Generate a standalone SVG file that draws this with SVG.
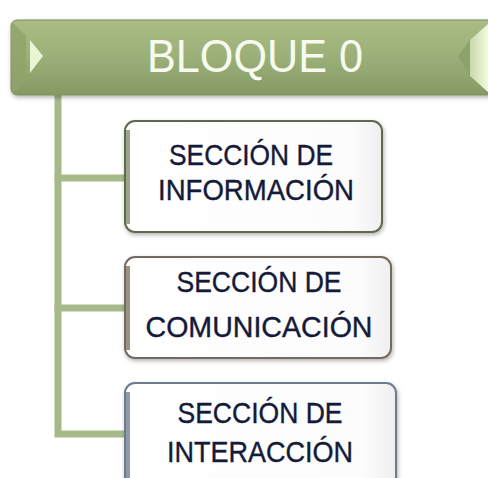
<svg xmlns="http://www.w3.org/2000/svg" width="488" height="478" viewBox="0 0 488 478">
<defs>
<linearGradient id="hdr" x1="0" y1="0" x2="0" y2="1">
<stop offset="0" stop-color="#a9bc85"/>
<stop offset="0.5" stop-color="#9bb078"/>
<stop offset="1" stop-color="#859a63"/>
</linearGradient>
<linearGradient id="bx" x1="0" y1="0" x2="1" y2="0">
<stop offset="0" stop-color="#ffffff"/>
<stop offset="0.88" stop-color="#fcfcfc"/>
<stop offset="1" stop-color="#efefef"/>
</linearGradient>
<linearGradient id="rcap" x1="0" y1="0" x2="1" y2="0">
<stop offset="0" stop-color="#c9d9a8"/>
<stop offset="1" stop-color="#f2fae0"/>
</linearGradient>
<filter id="sh" x="-5%" y="-10%" width="110%" height="130%">
<feDropShadow dx="1" dy="2" stdDeviation="2" flood-color="#000" flood-opacity="0.3"/>
</filter>
</defs>
<style>
.conn{stroke:#a6b988;stroke-width:7;fill:none;stroke-linecap:square}
.box{fill:url(#bx);stroke-width:2}
.lbl{font-family:"Liberation Sans",Arial,sans-serif;font-size:30px;fill:#141a38;stroke:#141a38;stroke-width:0.4;text-anchor:middle}
.hl{font-family:"Liberation Sans",Arial,sans-serif;font-size:46px;fill:#f6faef;text-anchor:middle}
</style>
<rect width="488" height="478" fill="#ffffff"/>
<g id="connectors">
<path class="conn" d="M58 96 V434 H126"/>
<path class="conn" d="M58 178 H126"/>
<path class="conn" d="M58 308 H126"/>
</g>
<g id="bloque0">
<rect x="11" y="20" width="490" height="75" rx="6" fill="url(#hdr)" stroke="#7d9060" stroke-width="1" filter="url(#sh)"/>
<path d="M12 22 L26 36 V80 L12 94 Z" fill="#8fa46c" opacity="0.8"/>
<path d="M30 40 L43 56 L30 73 Z" fill="#eaf5d2"/>
<path d="M488 24 L470 40 V76 L488 92 Z" fill="url(#rcap)"/>
<path d="M470 40 L458 56 L470 76 Z" fill="#8ea26b"/>
<text class="hl" x="255" y="72" textLength="216" lengthAdjust="spacingAndGlyphs">BLOQUE 0</text>
</g>
<g id="informacion">
<rect class="box" x="125" y="121" width="257" height="111" rx="10" stroke="#5f6b4e" filter="url(#sh)"/>
<rect x="126" y="130" width="4" height="94" fill="#9aa58a"/>
<text class="lbl" x="251" y="165" textLength="164" lengthAdjust="spacingAndGlyphs">SECCIÓN DE</text>
<text class="lbl" x="256" y="200" textLength="196" lengthAdjust="spacingAndGlyphs">INFORMACIÓN</text>
</g>
<g id="comunicacion">
<rect class="box" x="125" y="257" width="266" height="101" rx="10" stroke="#756a5e" filter="url(#sh)"/>
<rect x="126" y="266" width="4" height="84" fill="#9b9184"/>
<text class="lbl" x="259" y="292" textLength="165" lengthAdjust="spacingAndGlyphs">SECCIÓN DE</text>
<text class="lbl" x="259" y="337" textLength="227" lengthAdjust="spacingAndGlyphs">COMUNICACIÓN</text>
</g>
<g id="interaccion">
<rect class="box" x="125" y="383" width="271" height="110" rx="10" stroke="#6d7c8c" filter="url(#sh)"/>
<rect x="126" y="392" width="4" height="86" fill="#8f9aa6"/>
<text class="lbl" x="260" y="423" textLength="165" lengthAdjust="spacingAndGlyphs">SECCIÓN DE</text>
<text class="lbl" x="260" y="462" textLength="186" lengthAdjust="spacingAndGlyphs">INTERACCIÓN</text>
</g>
</svg>
